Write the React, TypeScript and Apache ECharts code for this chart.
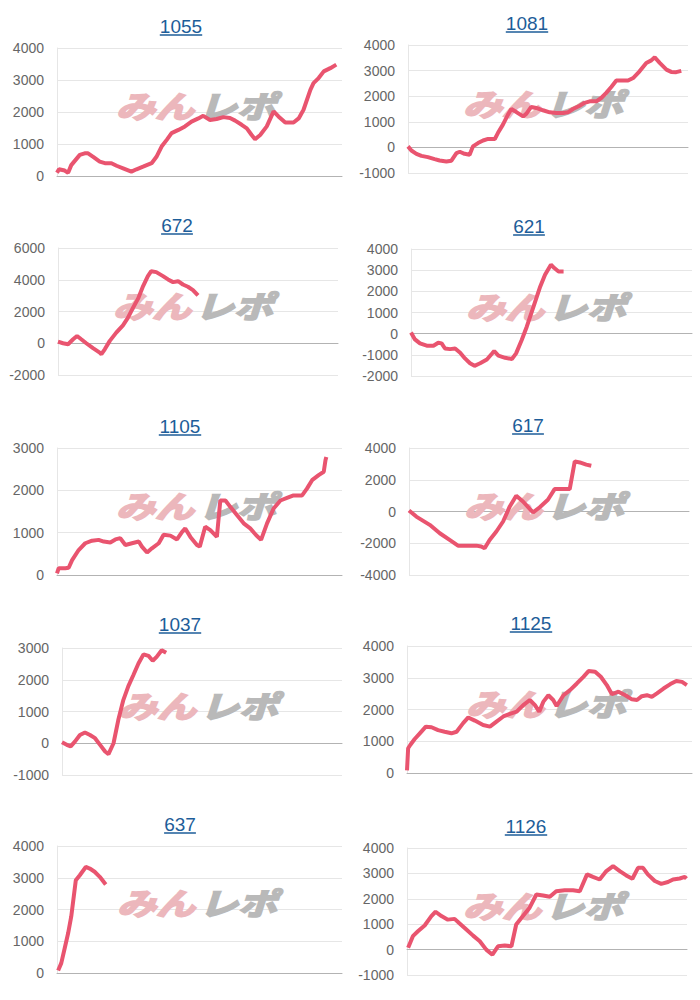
import React, { useEffect, useRef } from 'react';
import * as echarts from 'echarts';

const titles = ['1055', '1081', '672', '621', '1105', '617', '1037', '1125', '637', '1126'];
const yMin = [0, -1000, -2000, -2000, 0, -4000, -1000, 0, 0, -1000];
const yMax = [4000, 4000, 6000, 4000, 3000, 4000, 3000, 4000, 4000, 4000];
const yStep = [1000, 1000, 2000, 1000, 1000, 2000, 1000, 1000, 1000, 1000];

// x: progress in percent of the axis, y: value
const s1055 = [[0,100],[0.7,210],[2.7,170],[3.9,100],[5.0,340],[8.0,660],[9.7,710],[10.9,710],[12.7,600],[15.0,450],[16.8,400],[19.1,400],[20.9,320],[23.2,240],[26.1,135],[27.9,210],[30.2,290],[33.2,400],[34.9,600],[36.7,920],[38.5,1130],[40.2,1340],[42.6,1440],[44.9,1550],[47.2,1700],[49.6,1800],[51.3,1880],[53.7,1750],[56.0,1780],[58.4,1840],[60.7,1810],[62.5,1730],[64.8,1600],[66.6,1490],[68.3,1280],[69.5,1150],[71.3,1280],[73.6,1550],[76.0,2020],[77.7,1860],[80.1,1670],[83.0,1670],[84.8,1800],[86.5,2070],[88.9,2690],[90.0,2900],[91.8,3060],[93.6,3270],[95.9,3370],[98.0,3480]];
const s1081 = [[0,40],[1.2,-120],[3.0,-250],[4.8,-330],[7.1,-380],[9.5,-460],[11.3,-510],[13.7,-550],[15.5,-520],[17.3,-220],[18.5,-170],[20.2,-250],[22.0,-290],[23.2,40],[25.0,170],[26.8,270],[28.6,330],[31.0,330],[32.1,560],[33.9,890],[35.7,1280],[36.9,1500],[38.7,1380],[41.1,1210],[42.3,1320],[44.0,1580],[45.8,1540],[48.2,1450],[50.6,1370],[53.0,1340],[55.4,1340],[57.1,1370],[58.9,1500],[61.3,1630],[63.1,1740],[64.9,1800],[67.3,1800],[69.0,1930],[70.8,2130],[72.6,2360],[74.4,2610],[76.8,2610],[78.6,2610],[80.4,2710],[82.7,2970],[85.1,3300],[86.9,3400],[88.1,3520],[89.9,3300],[92.3,3040],[94.0,2950],[95.8,2940],[97.6,2990]];
const s672 = [[0,100],[1.8,0],[3.6,-60],[5.4,250],[6.8,460],[8.3,250],[10.1,0],[12.5,-310],[14.9,-590],[15.5,-690],[16.7,-380],[18.5,150],[20.8,670],[23.2,1130],[25.0,1610],[26.8,2240],[28.6,2810],[30.4,3600],[32.1,4230],[33.3,4540],[35.1,4480],[37.5,4230],[39.3,4020],[41.1,3850],[42.9,3910],[44.6,3700],[46.4,3560],[48.2,3350],[50.0,3010]];
const s621 = [[0,50],[1.4,-270],[3.2,-460],[5.6,-570],[8.0,-570],[9.7,-430],[10.9,-460],[12.1,-700],[13.9,-730],[15.7,-700],[17.5,-900],[19.2,-1170],[21.0,-1400],[22.6,-1520],[24.6,-1400],[27.0,-1220],[28.7,-960],[29.6,-820],[31.1,-1040],[33.5,-1140],[35.9,-1200],[37.4,-930],[39.4,-300],[41.2,330],[43.6,1280],[46.0,2230],[47.7,2780],[49.8,3260],[51.0,3100],[52.5,2940],[54.3,2940]];
const s1105 = [[0,40],[0.6,160],[2.9,160],[4.1,170],[5.3,350],[7.6,590],[9.9,750],[12.3,810],[14.6,830],[16.4,790],[18.7,770],[20.5,840],[22.2,870],[24.0,710],[26.3,750],[28.7,790],[29.8,670],[31.6,530],[33.3,630],[35.7,750],[37.4,950],[39.8,930],[42.1,840],[43.9,1020],[45.0,1100],[46.8,900],[49.1,710],[50.1,670],[52.0,1140],[53.8,1060],[56.1,900],[57.3,1760],[59.1,1760],[60.8,1610],[63.2,1410],[65.5,1220],[67.8,1100],[69.9,940],[71.6,830],[73.7,1220],[76.0,1570],[78.4,1760],[80.7,1820],[83.0,1880],[86.0,1880],[87.7,2040],[89.5,2240],[91.8,2360],[93.6,2440],[94.2,2710],[94.5,2790]];
const s617 = [[0,60],[2.6,-320],[7.4,-840],[11.0,-1370],[14.5,-1790],[17.5,-2150],[20.5,-2150],[24.0,-2150],[25.8,-2210],[27.0,-2320],[28.8,-1790],[31.2,-1260],[33.6,-630],[36.0,320],[38.3,990],[40.7,630],[44.3,-60],[46.7,270],[49.6,740],[52.0,1410],[55.0,1410],[57.4,1410],[59.2,3160],[61.0,3090],[63.3,2950],[65.1,2880]];
const s1037 = [[0,30],[1.7,-50],[3.1,-100],[4.6,50],[6.4,260],[8.2,340],[10.0,260],[11.8,160],[13.6,-50],[15.4,-260],[16.6,-340],[18.4,0],[20.1,730],[21.9,1360],[23.7,1800],[25.5,2150],[27.3,2510],[29.1,2800],[30.9,2750],[32.4,2600],[33.8,2720],[35.6,2930],[37.2,2850]];
const s1125 = [[0,80],[0.4,780],[1.2,890],[2.7,1070],[4.5,1250],[6.6,1460],[8.6,1440],[10.9,1350],[13.2,1300],[15.6,1250],[17.4,1300],[19.7,1570],[21.5,1750],[23.8,1650],[26.7,1510],[29.1,1460],[31.4,1620],[33.8,1780],[36.1,1860],[38.5,1930],[40.8,2140],[43.1,2300],[44.9,2140],[46.4,1930],[47.8,2240],[49.6,2450],[51.3,2300],[52.5,2110],[54.9,2450],[57.2,2610],[59.6,2820],[61.9,3030],[63.7,3210],[66.0,3190],[68.0,3030],[70.1,2770],[71.9,2480],[74.2,2560],[76.6,2450],[78.9,2320],[80.7,2300],[82.4,2420],[84.2,2450],[85.9,2400],[87.7,2510],[90.0,2660],[92.4,2800],[94.5,2900],[96.5,2870],[98.2,2770]];
const s637 = [[0.4,80],[1.5,310],[2.7,780],[3.9,1250],[5.0,1780],[6.6,2920],[8.0,3080],[10.1,3340],[11.5,3290],[13.2,3190],[15.0,3030],[17.1,2790]];
const s1126 = [[0.4,70],[2.1,530],[3.9,720],[6.3,950],[8.7,1320],[10.2,1490],[12.3,1320],[14.6,1180],[17.0,1210],[18.8,1030],[21.2,790],[23.6,550],[26.0,330],[28.3,0],[30.5,-200],[32.5,130],[34.9,160],[37.3,130],[39.0,990],[41.4,1320],[43.8,1650],[46.2,2170],[48.6,2130],[51.0,2080],[53.3,2300],[56.3,2340],[59.3,2340],[61.7,2300],[64.3,2960],[66.4,2860],[68.8,2760],[71.2,3090],[73.6,3290],[76.0,3090],[78.3,2920],[80.5,2790],[82.5,3220],[84.3,3220],[86.0,2960],[88.5,2700],[90.8,2590],[93.2,2660],[95.0,2760],[97.4,2800],[99.2,2860],[99.8,2790]];

const seriesData = [s1055, s1081, s672, s621, s1105, s617, s1037, s1125, s637, s1126];

// layout (pixels)
const gridBoxes = [
  { left: 57, top: 48, width: 285, height: 128 },
  { left: 408, top: 45, width: 280, height: 128 },
  { left: 58, top: 248, width: 280, height: 127 },
  { left: 411, top: 249, width: 281, height: 127 },
  { left: 57, top: 448, width: 285, height: 127 },
  { left: 409, top: 448, width: 280, height: 127 },
  { left: 62, top: 648, width: 280, height: 127 },
  { left: 407, top: 646, width: 285, height: 127 },
  { left: 57, top: 846, width: 285, height: 127 },
  { left: 407, top: 848, width: 280, height: 127 },
];
const titlePos = [[181, 26], [527, 23], [177, 225], [529, 226], [180, 426], [528, 425], [180, 624], [531, 623], [180, 824], [526, 826]];
const markPos = [[116, 105], [463, 103], [113, 305], [466, 306], [116, 505], [464, 505], [118, 705], [466, 703], [117, 902], [463, 905]];

const FONT = '"Liberation Sans", Arial, sans-serif';
const LINK = '#1d5d99';
const MARK_FONT = '"Noto Sans CJK JP", sans-serif';

export default function App() {
  const ref = useRef<HTMLDivElement>(null);
  useEffect(() => {
    document.body.style.margin = '0';
    if (!ref.current) return;
    const chart = echarts.init(ref.current, undefined, { renderer: 'svg' });
    const graphic: any[] = [];
    titles.forEach((t, i) => {
      const [tx, ty] = titlePos[i];
      const w = t.length * 10.6;
      graphic.push({
        type: 'text', x: tx, y: ty, z: 5,
        style: { text: t, fontSize: 19, fontFamily: FONT, fill: LINK, align: 'center', verticalAlign: 'middle' },
      });
      graphic.push({
        type: 'line', z: 5,
        shape: { x1: tx - w / 2, y1: ty + 9, x2: tx + w / 2, y2: ty + 9 },
        style: { stroke: LINK, lineWidth: 1.5 },
      });
      const [mx, my] = markPos[i];
      graphic.push({
        type: 'text', x: mx, y: my, z: 1, silent: true, scaleY: 0.78,
        style: { text: 'みん', fontSize: 39, fontWeight: 'bold', fontStyle: 'italic', fontFamily: MARK_FONT, fill: '#ecb7bc', stroke: '#ecb7bc', lineWidth: 2.5, align: 'left', verticalAlign: 'middle' },
      });
      graphic.push({
        type: 'text', x: mx + 82, y: my, z: 1, silent: true, scaleY: 0.78,
        style: { text: 'レポ', fontSize: 39, fontWeight: 'bold', fontStyle: 'italic', fontFamily: MARK_FONT, fill: '#b9b9b9', stroke: '#b9b9b9', lineWidth: 2.5, align: 'left', verticalAlign: 'middle' },
      });
    });

    chart.setOption({
      animation: false,
      grid: gridBoxes.map((g) => ({ ...g, containLabel: false })),
      xAxis: gridBoxes.map((_, i) => ({
        type: 'value', gridIndex: i, min: 0, max: 100,
        axisLine: { show: true, onZero: true, lineStyle: { color: '#b3b3b3', width: 1 } },
        axisTick: { show: false }, axisLabel: { show: false }, splitLine: { show: false },
      })),
      yAxis: gridBoxes.map((_, i) => ({
        type: 'value', gridIndex: i, min: yMin[i], max: yMax[i], interval: yStep[i],
        axisLine: { show: true, lineStyle: { color: '#e6e6e6' } },
        axisTick: { show: false },
        axisLabel: { color: '#666', fontSize: 14, fontFamily: FONT, margin: 13, formatter: (v: number) => String(v) },
        splitLine: { lineStyle: { color: '#e6e6e6' } },
      })),
      series: seriesData.map((d, i) => ({
        type: 'line', xAxisIndex: i, yAxisIndex: i, data: d, showSymbol: false, z: 3,
        lineStyle: { color: '#e9546f', width: 4 }, itemStyle: { color: '#e9546f' },
      })),
      graphic,
    });
    return () => chart.dispose();
  }, []);
  return <div ref={ref} style={{ width: 700, height: 1000 }} />;
}
